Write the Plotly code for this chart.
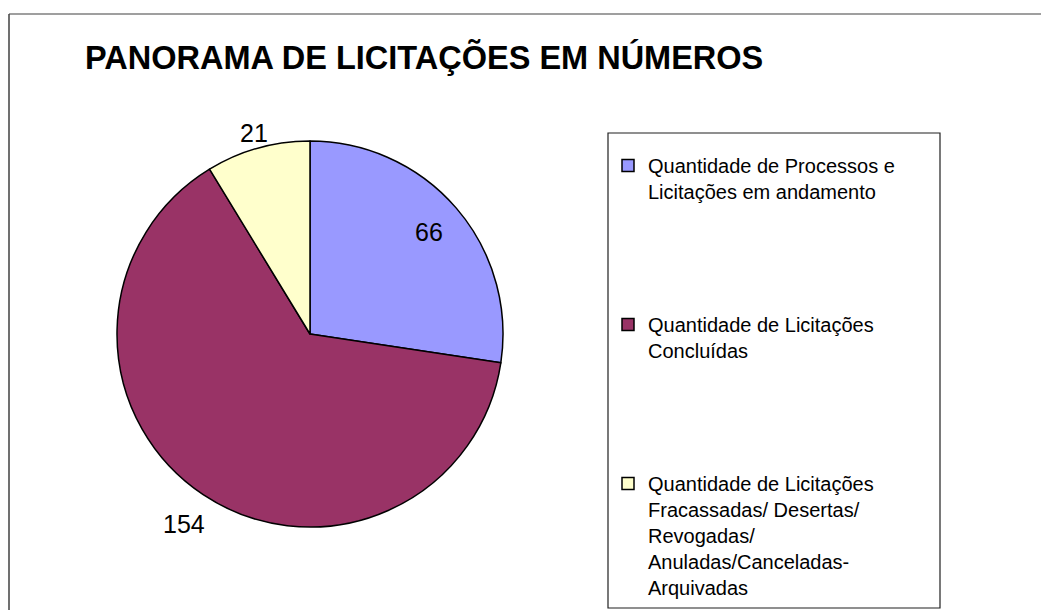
import math
import plotly.graph_objects as go

W, H = 1041, 610

title_text = "PANORAMA DE LICITAÇÕES EM NÚMEROS"
categories = [
    "Quantidade de Processos e<br>Licitações em andamento",
    "Quantidade de Licitações<br>Concluídas",
    "Quantidade de Licitações<br>Fracassadas/ Desertas/<br>Revogadas/<br>Anuladas/Canceladas-<br>Arquivadas",
]
values = [66, 154, 21]
colors = ["#9999FF", "#993366", "#FFFFCC"]
# data label distance from centre, as a fraction of the pie radius (style)
label_radius = [0.81, 1.18, 1.08]

# legend spacing: pad entries with blank lines
pad = [4, 4, 0]
legend_labels = [c + "<br> " * p for c, p in zip(categories, pad)]

# pie geometry (pixels)
cx, cy, r = 310, 334, 193

fig = go.Figure()
fig.add_trace(go.Pie(
    labels=legend_labels,
    values=values,
    sort=False,
    direction="clockwise",
    rotation=0,
    marker=dict(colors=colors, line=dict(color="#000000", width=1.5)),
    textinfo="none",
    domain=dict(x=[(cx - r) / W, (cx + r) / W], y=[(H - cy - r) / H, (H - cy + r) / H]),
    hoverinfo="label+value",
))

# data labels at each slice's mid-angle (derived from the values)
total = sum(values)
annotations = []
cum = 0
for v, k in zip(values, label_radius):
    theta = 2 * math.pi * (cum + v / 2) / total
    cum += v
    px = cx + k * r * math.sin(theta)
    py = cy - k * r * math.cos(theta)
    annotations.append(dict(
        x=px / W, y=1 - py / H, xref="paper", yref="paper",
        text=str(v), showarrow=False, xanchor="center", yanchor="middle",
        font=dict(family="Liberation Sans, Arial, sans-serif", size=25, color="#000000"),
    ))

fig.update_layout(
    width=W, height=H,
    margin=dict(l=0, r=0, t=0, b=0),
    paper_bgcolor="white",
    plot_bgcolor="white",
    title=dict(
        text="<b>" + title_text + "</b>",
        x=85 / W, xanchor="left", xref="paper",
        y=1 - 58 / H, yanchor="middle", yref="paper",
        font=dict(family="Liberation Sans, Arial, sans-serif", size=32.5, color="#000000"),
    ),
    legend=dict(
        x=608 / W, xanchor="left",
        y=1 - 146 / H, yanchor="top",
        bgcolor="rgba(0,0,0,0)",
        borderwidth=0,
        valign="top",
        itemwidth=30,
        font=dict(family="Liberation Sans, Arial, sans-serif", size=20, color="#000000"),
    ),
    showlegend=True,
    annotations=annotations,
    shapes=[
        # outer chart frame (left and top edges visible)
        dict(type="line", xref="paper", yref="paper", x0=9 / W, x1=1.0, y0=1 - 14 / H, y1=1 - 14 / H,
             line=dict(color="#7f7f7f", width=1.5)),
        dict(type="line", xref="paper", yref="paper", x0=9 / W, x1=9 / W, y0=0, y1=1 - 14 / H,
             line=dict(color="#404040", width=1.5)),
        # legend frame
        dict(type="rect", xref="paper", yref="paper", x0=608 / W, x1=940 / W, y0=1 - 608 / H, y1=1 - 133 / H,
             line=dict(color="#202020", width=1.2), fillcolor="rgba(0,0,0,0)"),
    ],
)

fig.write_html("out.html", config={"displayModeBar": False},
               post_script="document.body.style.margin='0px';")
